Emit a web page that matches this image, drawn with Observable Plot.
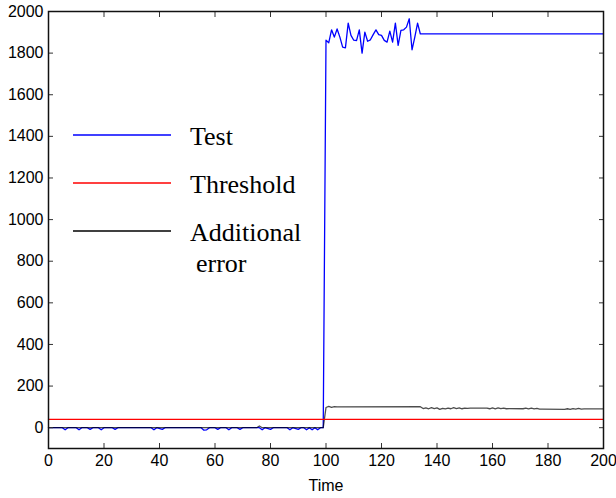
<!DOCTYPE html>
<html><head><meta charset="utf-8">
<script src="https://cdn.jsdelivr.net/npm/d3@7"></script>
<script src="https://cdn.jsdelivr.net/npm/@observablehq/plot@0.6"></script>
<style>
body{margin:0;background:#fff;}
#wrap{position:relative;width:616px;height:498px;}
#legend{position:absolute;left:0;top:0;pointer-events:none;}
</style></head><body><div id="wrap"></div>
<script>
// Tick values
const xTicks = [0,20,40,60,80,100,120,140,160,180,200];
const yTicks = [0,200,400,600,800,1000,1200,1400,1600,1800,2000];

// Test series (blue)
const testTime = [0,5,6,7,10,11,12,14,15,16,18,19,20,23,24,25,37,38,39,41,42,55,56,57,58,60,61,62,64,65,66,68,69,70,76,77,78,80,81,86,87,88,90,91,92,93,94,95,96,97,98,99,
  100,101,102,103,104,105,106,107,108,109,110,111,112,113,114,115,116,117,118,119,120,121,122,123,124,125,126,127,128,129,130,131,132,133,134,200];
const testValue = [0,0,-10,0,0,-10,0,0,-8,0,0,-10,0,0,-8,0,0,-10,0,-8,0,0,-12,-10,0,0,-8,0,0,-10,0,0,-8,0,0,-10,0,-8,0,0,-10,0,-8,0,0,-10,0,-10,0,-10,0,0,
  1862,1850,1912,1877,1916,1877,1829,1825,1944,1885,1862,1860,1912,1800,1901,1857,1864,1889,1912,1889,1885,1861,1853,1906,1853,1944,1837,1909,1912,1925,1965,1816,1877,1944,1892,1892];

// Threshold series (red)
const thresholdTime = [0,200];
const thresholdValue = [40,40];

// Additional error series (black)
const errorTime = [0,75,76,77,99,100,101,102,103,104,134,135,136,137,138,139,140,141,142,143,144,145,146,147,148,149,150,151,152,158,159,160,161,162,163,164,165,166,171,172,173,174,175,176,177,178,186,187,188,189,190,191,192,193,200];
const errorValue = [0,0,8,0,0,97,102,98,101,100,101,92,95,91,96,92,95,88,93,90,94,91,96,92,95,91,94,93,94,94,91,95,91,95,92,94,91,92,91,94,90,94,90,93,89,89,88,91,88,92,89,93,89,90,90];

const legendItems = ["Test","Threshold","Additional"];
const legendColors = ["#0000ff","#ff0000","#000000"];

const toRows = (t, v) => t.map((d, i) => ({time: d, value: v[i]}));
const test = toRows(testTime, testValue);
const threshold = toRows(thresholdTime, thresholdValue);
const addErr = toRows(errorTime, errorValue);

const plot = Plot.plot({
  width: 616, height: 498,
  marginLeft: 48, marginRight: 13, marginTop: 11, marginBottom: 50,
  style: {fontFamily: "'Liberation Sans', Arial, sans-serif", fontSize: "16px", color: "#000", background: "#fff"},
  x: {domain: [0, 200]},
  y: {domain: [-100, 2000]},
  marks: [
    Plot.lineY(test, {x: "time", y: "value", stroke: "#0000ff", strokeWidth: 1.3}),
    Plot.lineY(addErr, {x: "time", y: "value", stroke: "#000", strokeWidth: 1.3, strokeOpacity: 0.7}),
    Plot.lineY(threshold, {x: "time", y: "value", stroke: "#ff0000", strokeWidth: 1.2}),
    Plot.axisX(xTicks, {anchor: "bottom", tickSize: -5, tickPadding: 11, tickFormat: d3.format("d"), stroke: "#333", label: "Time", labelAnchor: "center", labelOffset: 42, labelArrow: "none"}),
    Plot.axisX(xTicks, {anchor: "top", tickSize: -5, tickFormat: () => "", label: null, stroke: "#333"}),
    Plot.axisY(yTicks, {anchor: "left", tickSize: -5, tickPadding: 10, tickFormat: d3.format("d"), label: null, stroke: "#333"}),
    Plot.axisY(yTicks, {anchor: "right", tickSize: -5, tickFormat: () => "", label: null, stroke: "#333"}),
    Plot.frame({stroke: "#111", strokeWidth: 1.5})
  ]
});
const wrap = document.getElementById("wrap");
wrap.appendChild(plot);

// Legend overlay inside the plot area
const ns = "http://www.w3.org/2000/svg";
const lg = document.createElementNS(ns, "svg");
lg.setAttribute("id", "legend");
lg.setAttribute("width", 616);
lg.setAttribute("height", 498);
const rowsY = [135, 183, 231];
legendItems.forEach((name, i) => {
  const ln = document.createElementNS(ns, "line");
  ln.setAttribute("x1", 73); ln.setAttribute("x2", 171);
  ln.setAttribute("y1", rowsY[i]); ln.setAttribute("y2", rowsY[i]);
  ln.setAttribute("stroke", legendColors[i]); ln.setAttribute("stroke-width", 1.6);
  lg.appendChild(ln);
  const tx = document.createElementNS(ns, "text");
  tx.setAttribute("x", 190); tx.setAttribute("y", rowsY[i] + 10);
  tx.setAttribute("font-family", "'Liberation Serif', 'Times New Roman', serif");
  tx.setAttribute("font-size", 26);
  tx.textContent = name;
  lg.appendChild(tx);
});
const tx2 = document.createElementNS(ns, "text");
tx2.setAttribute("x", 196); tx2.setAttribute("y", 272);
tx2.setAttribute("font-family", "'Liberation Serif', 'Times New Roman', serif");
tx2.setAttribute("font-size", 26);
tx2.textContent = "error";
lg.appendChild(tx2);
wrap.appendChild(lg);
</script></body></html>
